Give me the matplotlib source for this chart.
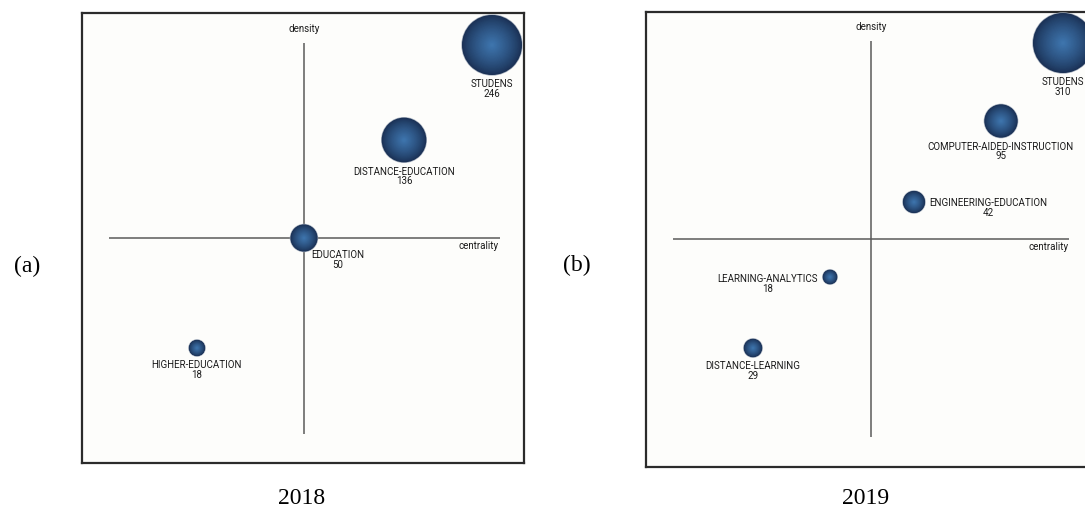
import numpy as np
import matplotlib
matplotlib.use("Agg")
import matplotlib.pyplot as plt
from matplotlib.colors import to_rgb

# ---------------- data ----------------
# Panel (a) 2018
themes_2018 = ["STUDENS", "DISTANCE-EDUCATION", "EDUCATION", "HIGHER-EDUCATION"]
centrality_2018 = [1.88, 1.00, 0.00, -1.07]
density_2018 = [1.93, 0.98, 0.00, -1.10]
docs_2018 = [246, 136, 50, 18]

# Panel (b) 2019
themes_2019 = ["STUDENS", "COMPUTER-AIDED-INSTRUCTION", "ENGINEERING-EDUCATION",
               "LEARNING-ANALYTICS", "DISTANCE-LEARNING"]
centrality_2019 = [1.92, 1.30, 0.43, -0.41, -1.18]
density_2019 = [1.96, 1.18, 0.37, -0.38, -1.09]
docs_2019 = [310, 95, 42, 18, 29]

panel_tags = ["(a)", "(b)"]
panel_years = ["2018", "2019"]

LABEL_FONT = "Roboto"
LSIZE = 7.0
SERIF = "Liberation Serif"

DPI = 100
fig = plt.figure(figsize=(10.85, 5.13), dpi=DPI)
fig.patch.set_facecolor("white")

W, H = 1085, 513

def add_panel(left_px, top_px, right_px, bottom_px, cx_px, cy_px):
    ax = fig.add_axes([left_px / W, 1 - bottom_px / H,
                       (right_px - left_px) / W, (bottom_px - top_px) / H])
    ax.set_xlim(-(cx_px - left_px) / 100, (right_px - cx_px) / 100)
    ax.set_ylim(-(bottom_px - cy_px) / 100, (cy_px - top_px) / 100)
    ax.set_facecolor("#fdfdfb")
    ax.set_xticks([]); ax.set_yticks([])
    for sp in ax.spines.values():
        sp.set_linewidth(1.6)
        sp.set_color("#2b2b2b")
    return ax

ax_a = add_panel(82, 13, 524, 463, 304, 238)
ax_b = add_panel(646, 12, 1097, 467, 871, 239)

EDGE = np.array(to_rgb("#1a3054"))
CENTER = np.array(to_rgb("#3f77b0"))

def draw_bubbles(ax, xs, ys, ns, rmax_px=30):
    ns = np.asarray(ns, float)
    r_px = rmax_px * np.sqrt(ns / ns.max())
    d_pt = 2 * r_px * 72 / DPI
    # faint halo
    ax.scatter(xs, ys, s=(d_pt + 1.0) ** 2, color="#a7b1bf", linewidths=0, zorder=3)
    steps = 40
    for k in range(steps):
        t = 1 - k / steps          # radius fraction
        mix = (1 - t) ** 0.8
        col = EDGE * (1 - mix) + CENTER * mix
        ax.scatter(xs, ys, s=(d_pt * t) ** 2, color=col, linewidths=0, zorder=4 + k * 0.01)
    return r_px

def crosshair(ax, half):
    ax.plot([0, 0], [-half, half], color="#5a5a5a", lw=1.1, zorder=2, solid_capstyle="butt")
    ax.plot([-half, half], [0, 0], color="#5a5a5a", lw=1.1, zorder=2, solid_capstyle="butt")

def label(ax, x, y, text, dx, dy, ha="center", va="center"):
    ax.annotate(text, (x, y), xytext=(dx, -dy), textcoords="offset pixels",
                ha=ha, va=va, multialignment="center", fontsize=LSIZE,
                family=LABEL_FONT, color="#1a1a1a", zorder=6, linespacing=0.95)

# ---- panel a ----
crosshair(ax_a, 1.955)
r_a = draw_bubbles(ax_a, centrality_2018, density_2018, docs_2018)
ax_a.text(0, 2.09, "density", ha="center", va="center", fontsize=LSIZE,
          family=LABEL_FONT, color="#1a1a1a")
ax_a.text(1.95, -0.08, "centrality", ha="right", va="center", fontsize=LSIZE,
          family=LABEL_FONT, color="#1a1a1a")
for i, name in enumerate(themes_2018):
    txt = f"{name}\n{docs_2018[i]}"
    x, y, r = centrality_2018[i], density_2018[i], r_a[i]
    if name == "EDUCATION":
        label(ax_a, x, y, txt, 34, 22)
    else:
        label(ax_a, x, y, txt, 0, r + 14)

# ---- panel b ----
crosshair(ax_b, 1.98)
r_b = draw_bubbles(ax_b, centrality_2019, density_2019, docs_2019)
ax_b.text(0, 2.12, "density", ha="center", va="center", fontsize=LSIZE,
          family=LABEL_FONT, color="#1a1a1a")
ax_b.text(1.98, -0.08, "centrality", ha="right", va="center", fontsize=LSIZE,
          family=LABEL_FONT, color="#1a1a1a")
for i, name in enumerate(themes_2019):
    txt = f"{name}\n{docs_2019[i]}"
    x, y, r = centrality_2019[i], density_2019[i], r_b[i]
    if name == "ENGINEERING-EDUCATION":
        label(ax_b, x, y, txt, r + 4, 6, ha="left")
    elif name == "LEARNING-ANALYTICS":
        label(ax_b, x, y, txt, -(r + 5), 7, ha="right")
    else:
        label(ax_b, x, y, txt, 0, r + 14)

# ---- panel tags and years ----
fig.text(27 / W, 1 - 266 / H, panel_tags[0], ha="center", va="center",
         fontsize=17, family=SERIF)
fig.text(577 / W, 1 - 265 / H, panel_tags[1], ha="center", va="center",
         fontsize=17, family=SERIF)
fig.text(302 / W, 1 - 499 / H, panel_years[0], ha="center", va="center",
         fontsize=17, family=SERIF)
fig.text(866 / W, 1 - 499 / H, panel_years[1], ha="center", va="center",
         fontsize=17, family=SERIF)

fig.savefig("out.png", dpi=DPI)
